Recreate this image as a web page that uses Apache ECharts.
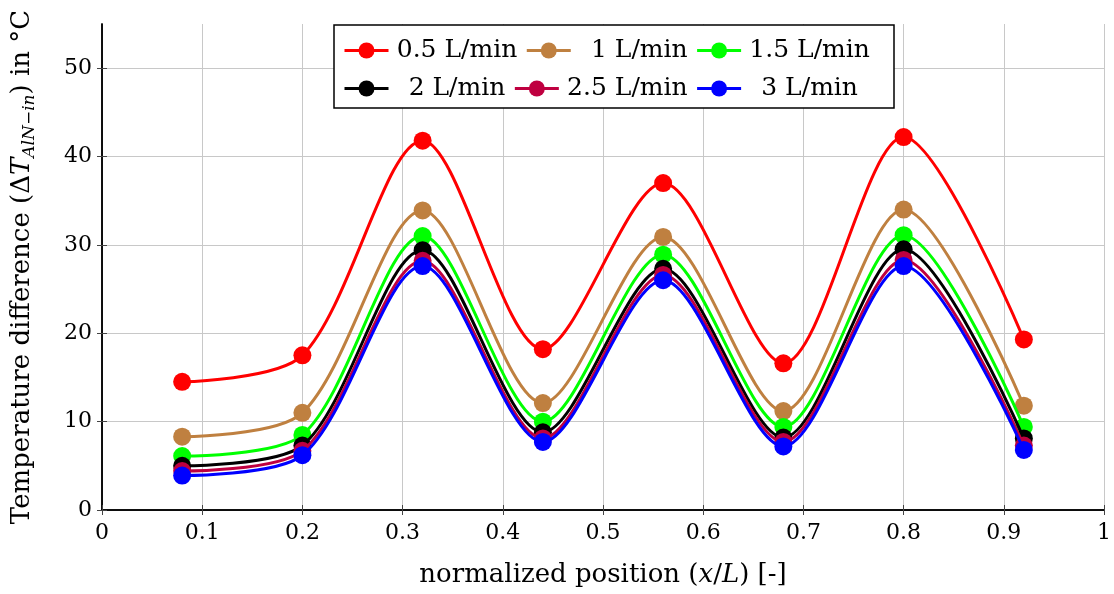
<!DOCTYPE html>
<html>
<head>
<meta charset="utf-8">
<script src="https://cdn.jsdelivr.net/npm/echarts@6/dist/echarts.min.js"></script>
<style>
  html, body { margin: 0; padding: 0; background: #fff; }
  #chart { width: 1114px; height: 594px; }
</style>
</head>
<body>
<div id="chart"></div>
<script>
// Measurement positions along the channel (x/L)
const positions = [0.08, 0.2, 0.32, 0.44, 0.56, 0.68, 0.8, 0.92];

// Temperature difference ΔT_AlN-in in °C for each flow rate
const flow05 = [14.5, 17.5, 41.8, 18.2, 37.0, 16.6, 42.2, 19.3];
const flow10 = [8.3, 11.0, 33.9, 12.1, 30.9, 11.2, 34.0, 11.8];
const flow15 = [6.1, 8.5, 31.0, 10.0, 28.9, 9.4, 31.1, 9.4];
const flow20 = [5.0, 7.3, 29.4, 8.8, 27.3, 8.2, 29.5, 8.1];
const flow25 = [4.4, 6.7, 28.2, 8.1, 26.6, 7.7, 28.3, 7.3];
const flow30 = [3.9, 6.2, 27.6, 7.7, 26.0, 7.2, 27.6, 6.8];

const seriesNames = ['0.5 L/min', '1 L/min', '1.5 L/min', '2 L/min', '2.5 L/min', '3 L/min'];
const seriesValues = [flow05, flow10, flow15, flow20, flow25, flow30];
const seriesColors = ['#ff0000', '#bf8040', '#00ff00', '#000000', '#bf0040', '#0000ff'];

const xTicks = [0, 0.1, 0.2, 0.3, 0.4, 0.5, 0.6, 0.7, 0.8, 0.9, 1];
const yTicks = [0, 10, 20, 30, 40, 50];

const FONT = 'DejaVu Serif';

const series = seriesNames.map((name, i) => ({
  name: name,
  type: 'line',
  smooth: 0.3,
  data: positions.map((x, j) => [x, seriesValues[i][j]]),
  symbol: 'circle',
  symbolSize: 18,
  lineStyle: { color: seriesColors[i], width: 3 },
  itemStyle: { color: seriesColors[i] },
  emphasis: { disabled: true },
  z: 2 + i
}));

const legendRow = (names, top) => ({
  data: names,
  left: 338,
  top: top,
  orient: 'horizontal',
  itemWidth: 44,
  itemHeight: 20,
  itemGap: 8,
  z: 20,
  selectedMode: false,
  lineStyle: { width: 3 },
  formatter: n => '{c|' + n + '}',
  textStyle: {
    fontFamily: FONT,
    fontSize: 25,
    color: '#000',
    rich: { c: { width: 127, align: 'center', fontFamily: FONT, fontSize: 25, color: '#000' } }
  }
});

// black frame drawn with axis lines so it sits above the grid lines
const frameLine = { show: true, lineStyle: { color: '#000', width: 1.5 } };
const innerTick = { show: true, inside: true, length: 5, lineStyle: { color: '#444' } };

const chart = echarts.init(document.getElementById('chart'), null, { renderer: 'canvas' });

chart.setOption({
  animation: false,
  backgroundColor: '#fff',
  grid: { left: 102, right: 2, top: 24, bottom: 84, show: false },
  graphic: [{
    type: 'rect',
    z: 10,
    shape: { x: 334, y: 25, width: 560, height: 83 },
    style: { fill: '#fff', stroke: '#000', lineWidth: 1.5 }
  }],
  legend: [
    legendRow(seriesNames.slice(0, 3), 33),
    legendRow(seriesNames.slice(3, 6), 71)
  ],
  xAxis: [{
    type: 'value',
    min: 0, max: 1, interval: 0.1,
    name: 'normalized position ({i|x}/{i|L}) [-]',
    nameLocation: 'middle',
    nameGap: 52,
    nameTextStyle: {
      fontFamily: FONT, fontSize: 26, color: '#000',
      rich: { i: { fontFamily: FONT, fontStyle: 'italic', fontSize: 26, color: '#000' } }
    },
    axisLine: frameLine,
    axisTick: innerTick,
    axisLabel: {
      fontFamily: FONT, fontSize: 22, color: '#000', margin: 12,
      formatter: v => String(xTicks.find(t => Math.abs(t - v) < 1e-9) ?? v)
    },
    splitLine: { show: true, lineStyle: { color: '#c8c8c8', width: 1 } }
  }, {
    type: 'value', position: 'top', min: 0, max: 1, interval: 0.1,
    axisLine: frameLine, axisLabel: { show: false }, splitLine: { show: false },
    axisTick: innerTick
  }],
  yAxis: [{
    type: 'value',
    min: 0, max: 55, interval: 10,
    name: 'Temperature difference ({d|Δ}{t|T}{s|AlN−in}) in °C',
    nameLocation: 'middle',
    nameGap: 64,
    nameTextStyle: {
      fontFamily: FONT, fontSize: 26, color: '#000',
      rich: {
        d: { fontFamily: FONT, fontSize: 26, color: '#000', lineHeight: 32 },
        t: { fontFamily: FONT, fontSize: 26, fontStyle: 'italic', color: '#000', lineHeight: 32 },
        s: { fontFamily: FONT, fontSize: 17, fontStyle: 'italic', color: '#000', verticalAlign: 'bottom', lineHeight: 32 }
      }
    },
    axisLine: frameLine,
    axisTick: Object.assign({ customValues: yTicks }, innerTick),
    axisLabel: {
      fontFamily: FONT, fontSize: 22, color: '#000', margin: 10,
      customValues: yTicks,
      formatter: v => String(v)
    },
    splitLine: { show: true, lineStyle: { color: '#c8c8c8', width: 1 } }
  }, {
    type: 'value', position: 'right', min: 0, max: 55, interval: 10,
    axisLine: frameLine, axisLabel: { show: false }, splitLine: { show: false },
    axisTick: Object.assign({ customValues: yTicks }, innerTick)
  }],
  series: series
});
</script>
</body>
</html>
